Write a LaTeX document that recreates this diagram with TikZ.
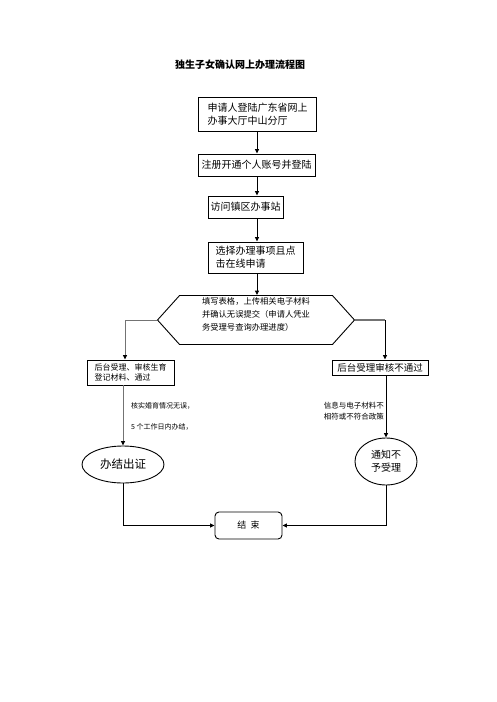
\documentclass[tikz,border=0pt]{standalone}
\usepackage{fontspec}
\setmainfont{Noto Sans CJK SC}
\usetikzlibrary{shapes.geometric,shapes.symbols,arrows.meta}

\begin{document}
\begin{tikzpicture}[x=1pt,y=-1pt,
	box/.style={shape=rectangle,draw=black,line width=0.9pt,inner sep=0pt,align=left,font=\fontsize{10}{13}\selectfont},
	link/.style={-{Triangle[length=4.5pt,width=4pt,color=black]},line width=0.9pt},
	greyline/.style={draw=black!55,line width=1.4pt},
	note/.style={inner sep=0pt,font=\fontsize{7}{11}\selectfont}]
	\useasboundingbox (0,0) rectangle (496,702);

	\coordinate (spine) at (257,0);
	\coordinate (lcol)  at (125,0);
	\coordinate (rcol)  at (385,0);

	\node[inner sep=0pt,font=\fontsize{10}{12}\selectfont\bfseries] (title) at (240,65) {独生子女确认网上办理流程图};

	\node[box,minimum width=118pt,minimum height=34pt] (login)  at (257.5,114)   {申请人登陆广东省网上\\办事大厅中山分厅};
	\node[box,minimum width=117pt,minimum height=22pt] (reg)    at (256.5,165)   {注册开通个人账号并登陆};
	\node[box,minimum width=75pt,minimum height=22pt]  (visit)  at (245.5,207)   {访问镇区办事站};
	\node[box,minimum width=95pt,minimum height=31pt]  (choose) at (255.5,257.5) {选择办理事项且点\\击在线申请};

	\node[shape=signal,signal to=west and east,signal pointer angle=96,draw=black,line width=0.9pt,
		minimum width=197pt,minimum height=49pt,inner sep=0pt] (form) at (256,320) {};
	\node[inner sep=0pt,align=left,font=\fontsize{8.3}{13}\selectfont] (formtext) at (256,314)
		{填写表格，上传相关电子材料\\并确认无误提交（申请人凭业\\务受理号查询办理进度）};

	\node[box,minimum width=87pt,minimum height=25pt,font=\fontsize{8}{10.5}\selectfont] (pass) at (130.5,372.5) {后台受理、审核生育\\登记材料、通过};
	\node[box,minimum width=96pt,minimum height=15pt,font=\fontsize{9.5}{11}\selectfont] (fail) at (380,367.5) {后台受理审核不通过};

	\node[note,anchor=west] (check) at (131,406) {核实婚育情况无误，};
	\node[note,anchor=west] (days)  at (131,427) {5 个工作日内办结，};
	\node[note,anchor=east,align=right,font=\fontsize{7.5}{11}\selectfont] (reason) at (384,411.5) {信息与电子材料不\\相符或不符合政策};

	\node[shape=ellipse,draw=black,line width=0.9pt,minimum width=82pt,minimum height=37pt,inner sep=0pt,
		font=\fontsize{11.5}{13}\selectfont] (issue) at (123,464.5) {办结出证};
	\node[shape=ellipse,draw=black,line width=0.9pt,minimum width=62pt,minimum height=47pt,inner sep=0pt,
		align=center,font=\fontsize{10}{13}\selectfont] (notify) at (386,461.5) {通知不\\予受理};

	\node[shape=rectangle,rounded corners=4pt,draw=black,line width=0.9pt,minimum width=67pt,minimum height=27pt,
		inner sep=0pt,font=\fontsize{9}{11}\selectfont] (finish) at (248.5,525.5) {结\ \ 束};

	% main column
	\draw[link] (login.south -| spine) -- (reg.north -| spine);
	\draw[link] (reg.south -| spine) -- (visit.north -| spine);
	\draw[link] (visit.south -| spine) -- (choose.north -| spine);
	\draw[link] (choose.south -| spine) -- (form.north -| spine);

	% branches
	\draw[greyline,link] (form.west) -| (pass.north -| lcol);
	\draw[greyline] (form.east) -- (form.east -| rcol);
	\draw[link] (form.east -| rcol) -- (fail.north -| rcol);

	\draw[greyline,link] (pass.south -| issue) -- (issue.north);
	\draw[link] (fail.south -| notify) -- (notify.north);

	\draw[link] (issue.south) |- (finish.west);
	\draw[link] (notify.south) |- (finish.east);
\end{tikzpicture}
\end{document}
